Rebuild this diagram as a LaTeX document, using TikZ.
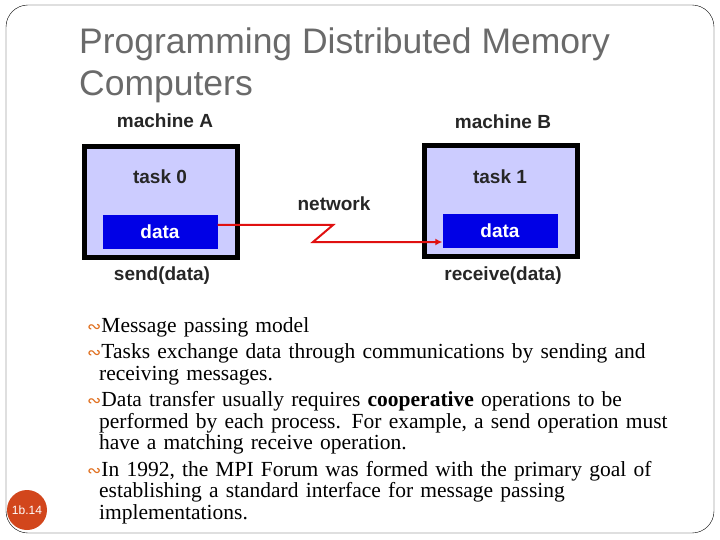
\documentclass[tikz,border=0pt]{standalone}
\usepackage{fontspec}
\setmainfont{Liberation Serif}
\setsansfont{Liberation Sans}
\newfontfamily\symfont{DejaVu Sans}
\usetikzlibrary{arrows.meta,positioning}
\definecolor{MachFill}{HTML}{CCCCFF}
\definecolor{DataBlue}{HTML}{0000E6}
\definecolor{NetRed}{HTML}{E01010}
\definecolor{TitleGray}{HTML}{6A6A6A}
\definecolor{PageRust}{HTML}{D2461C}
\definecolor{BulletOrange}{HTML}{E07020}
\tikzset{
    machine/.style = {draw, line width=4.5pt, fill=MachFill, rectangle,
        minimum width=153pt, minimum height=111pt},
    datablk/.style = {fill=DataBlue, text=white, rectangle, font=\sffamily\bfseries\fontsize{19}{21}\selectfont,
        minimum width=115pt, minimum height=33pt},
    lbl/.style = {font=\sffamily\bfseries\fontsize{19}{21}\selectfont, text=black!85},
    bullet/.style = {anchor=north west, align=left, inner sep=0pt, text width=600pt,
        font=\fontsize{21.5}{21.5}\selectfont},
    netline/.style = {draw=NetRed, line width=2pt}
}
\newcommand{\bul}{{\symfont\color{BulletOrange}\fontsize{17}{17}\selectfont∾}\hspace{0pt}}
\begin{document}
\begin{tikzpicture}[x=1pt, y=-1pt]
    \useasboundingbox (0,0) rectangle (720,540);
    % slide frame
    \draw[rounded corners=22pt, thin] (6,5) rectangle (714,533);
    % title
    \node[anchor=north west, align=left, inner sep=0pt, text=TitleGray,
        font=\sffamily\fontsize{35.5}{42}\selectfont] (title) at (79,28)
        {Programming Distributed Memory\\Computers};
    % machines
    \node[machine] (machA) at (161,202) {};
    \node[machine] (machB) at (501,201) {};
    \node[lbl] (nameA) at (165,121) {machine A};
    \node[lbl] (nameB) at (503,122) {machine B};
    \node[lbl] (task0) at (160,177) {task 0};
    \node[lbl] (task1) at (500,177) {task 1};
    \node[datablk] (dataA) at (160,232) {data};
    \node[datablk] (dataB) at (500,231) {data};
    \node[lbl] (send) at (162,276) {send(data)};
    \node[lbl] (recv) at (503,276) {receive(data)};
    \node[lbl] (net) at (334,204) {network};
    % network link
    \coordinate (zA) at (333,225);
    \coordinate (zB) at (313,242);
    \draw[netline, -{Latex[length=7pt,width=7pt]}] (dataA.east |- zA) -- (zA) -- (zB) -- (zB -| dataB.west);
    % bullets
    \node[bullet] (b1) at (87,317) {\bul Message passing model};
    \node[bullet, below=6.5pt of b1.south west, anchor=north west] (b2)
        {\bul Tasks exchange data through communications by sending and\\
        \hspace*{12pt}receiving messages.};
    \node[bullet, below=6.5pt of b2.south west, anchor=north west] (b3)
        {\bul Data transfer usually requires \textbf{cooperative} operations to be\\
        \hspace*{12pt}performed by each process. For example, a send operation must\\
        \hspace*{12pt}have a matching receive operation.};
    \node[bullet, below=6.5pt of b3.south west, anchor=north west] (b4)
        {\bul In 1992, the MPI Forum was formed with the primary goal of\\
        \hspace*{12pt}establishing a standard interface for message passing\\
        \hspace*{12pt}implementations.};
    % page number
    \node[circle, fill=PageRust, minimum size=40pt, inner sep=0pt, text=white,
        font=\sffamily\fontsize{12}{13}\selectfont] (pgno) at (27,510) {1b.14};
\end{tikzpicture}
\end{document}
